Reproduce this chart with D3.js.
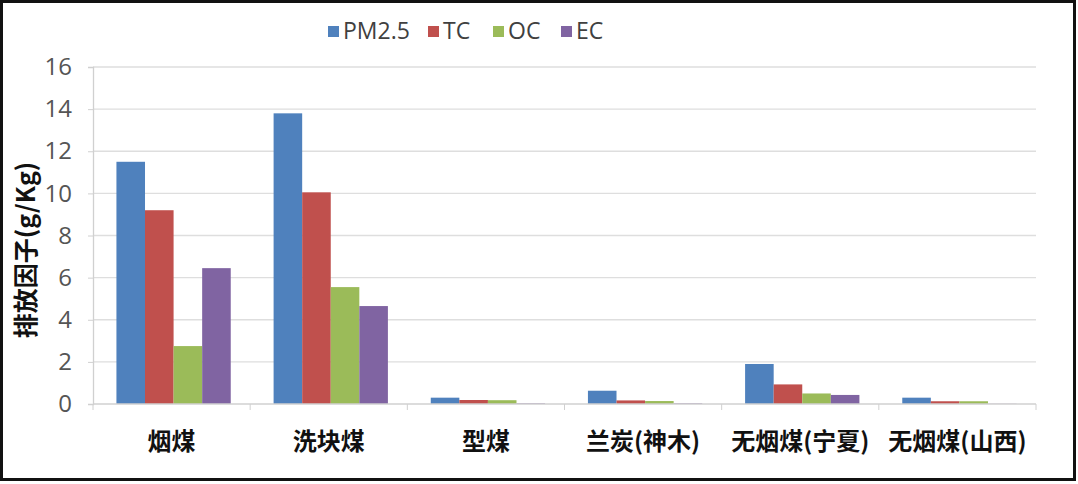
<!DOCTYPE html>
<html>
<head>
<meta charset="utf-8">
<script src="https://cdn.jsdelivr.net/npm/d3@7"></script>
<style>
  body { margin: 0; background: #fff; }
  svg { display: block; }
</style>
</head>
<body>
<svg id="chart" width="1078" height="484"></svg>
<script>
// data
var categories = ['烟煤', '洗块煤', '型煤', '兰炭(神木)', '无烟煤(宁夏)', '无烟煤(山西)'];
var seriesNames = ['PM2.5', 'TC', 'OC', 'EC'];
var pm25 = [11.5, 13.8, 0.3, 0.63, 1.9, 0.3];
var tc = [9.2, 10.05, 0.19, 0.17, 0.93, 0.13];
var oc = [2.75, 5.55, 0.18, 0.14, 0.5, 0.13];
var ec = [6.45, 4.65, 0.03, 0.03, 0.43, 0.01];
var yTicks = [0, 2, 4, 6, 8, 10, 12, 14, 16];
var colors = ['#4F81BD', '#C0504D', '#9BBB59', '#8064A2'];

var seriesValues = [pm25, tc, oc, ec];

var svg = d3.select('#chart');
var plotLeft = 93, plotRight = 1036, plotTop = 67, plotBottom = 404;

// outer frame
svg.append('rect')
    .attr('x', 1.5).attr('y', 1.5)
    .attr('width', 1073).attr('height', 478)
    .attr('fill', '#fff')
    .attr('stroke', '#111').attr('stroke-width', 3);

var x0 = d3.scaleBand().domain(categories).range([plotLeft, plotRight]).paddingInner(0).paddingOuter(0);
var x1 = d3.scaleBand().domain(seriesNames).range([0, x0.bandwidth()]).paddingOuter(0.75).paddingInner(0);
var y = d3.scaleLinear().domain([0, 16]).range([plotBottom, plotTop]);

// gridlines
svg.append('g').selectAll('line')
    .data(yTicks.filter(d => d > 0))
    .enter().append('line')
    .attr('x1', plotLeft).attr('x2', plotRight)
    .attr('y1', d => y(d)).attr('y2', d => y(d))
    .attr('stroke', '#dedede').attr('stroke-width', 1.3);

// y axis
var yAxis = svg.append('g')
    .attr('transform', 'translate(' + plotLeft + ',0)')
    .call(d3.axisLeft(y).tickValues(yTicks).tickSize(5).tickPadding(16));
yAxis.select('.domain').attr('stroke', '#d0d0d0').attr('stroke-width', 1.3);
yAxis.selectAll('.tick line').attr('stroke', '#d0d0d0');
yAxis.selectAll('.tick text')
    .attr('fill', '#555')
    .style('font-family', '"Open Sans", "DejaVu Sans", sans-serif')
    .style('font-size', '24px');

// bars
var groups = svg.append('g').selectAll('g')
    .data(categories)
    .enter().append('g')
    .attr('transform', d => 'translate(' + (x0(d) + 2) + ',0)');

groups.selectAll('rect')
    .data((d, i) => seriesNames.map((s, j) => ({ s: s, v: seriesValues[j][i], c: colors[j] })))
    .enter().append('rect')
    .attr('x', d => x1(d.s))
    .attr('width', x1.bandwidth())
    .attr('y', d => y(d.v))
    .attr('height', d => y(0) - y(d.v))
    .attr('fill', d => d.c);

// x axis (ticks between categories)
var xAxis = svg.append('g').attr('transform', 'translate(0,' + plotBottom + ')');
xAxis.append('line')
    .attr('x1', plotLeft).attr('x2', plotRight)
    .attr('stroke', '#d0d0d0').attr('stroke-width', 1.3);
var bounds = categories.map(c => x0(c)).concat([plotRight]);
xAxis.selectAll('.sep')
    .data(bounds)
    .enter().append('line')
    .attr('class', 'sep')
    .attr('x1', d => d).attr('x2', d => d)
    .attr('y1', 0).attr('y2', 6)
    .attr('stroke', '#d0d0d0');
xAxis.selectAll('text')
    .data(categories)
    .enter().append('text')
    .attr('x', d => x0(d) + x0.bandwidth() / 2)
    .attr('y', 46)
    .attr('text-anchor', 'middle')
    .attr('fill', '#111')
    .style('font-family', '"Noto Sans CJK SC", sans-serif')
    .style('font-weight', 'bold')
    .style('font-size', '24px')
    .text(d => d);

// y axis title
svg.append('text')
    .attr('transform', 'translate(35,250) rotate(-90)')
    .attr('text-anchor', 'middle')
    .attr('fill', '#111')
    .style('font-family', '"Noto Sans CJK SC", sans-serif')
    .style('font-weight', 'bold')
    .style('font-size', '25px')
    .text('排放因子(g/Kg)');

// legend
var legendX = [328, 428, 493, 561];
var legend = svg.append('g').selectAll('g')
    .data(seriesNames)
    .enter().append('g')
    .attr('transform', (d, i) => 'translate(' + legendX[i] + ',31)');
legend.append('rect')
    .attr('x', 0).attr('y', -5)
    .attr('width', 11).attr('height', 11)
    .attr('fill', (d, i) => colors[i]);
legend.append('text')
    .attr('x', 15).attr('y', 8)
    .attr('fill', '#404040')
    .style('font-family', '"Open Sans", "DejaVu Sans", sans-serif')
    .style('font-size', '23px')
    .text(d => d);
</script>
</body>
</html>
